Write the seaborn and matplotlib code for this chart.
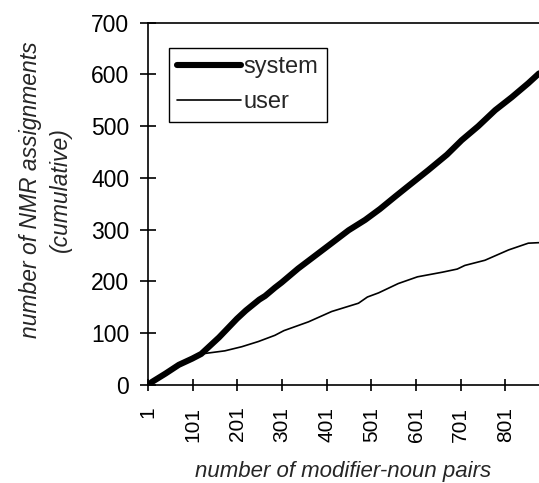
import numpy as np
import pandas as pd
import matplotlib
matplotlib.use("Agg")
import matplotlib.pyplot as plt
import seaborn as sns

# cumulative NMR assignments
system_pairs = [1, 10, 40, 70, 100, 120, 130, 160, 180, 200, 220, 250, 263, 285, 300,
                337, 360, 412, 450, 487, 520, 554, 580, 628, 670, 703, 740, 778, 815, 852, 876]
system_counts = [0, 6, 22, 39, 51, 60, 68, 92, 110, 128, 144, 165, 172, 188, 198,
                 225, 240, 274, 299, 319, 340, 364, 382, 415, 445, 473, 500, 531, 556, 583, 602]

user_pairs = [1, 10, 40, 70, 100, 120, 173, 211, 248, 285, 305, 360, 412, 472, 492,
              517, 561, 604, 660, 693, 710, 755, 808, 852, 876]
user_counts = [0, 6, 22, 39, 51, 60, 66, 74, 84, 96, 105, 122, 142, 158, 170,
               178, 196, 209, 218, 224, 231, 241, 261, 274, 275]

x_ticks = [1, 101, 201, 301, 401, 501, 601, 701, 801]
y_ticks = [0, 100, 200, 300, 400, 500, 600, 700]

sys_df = pd.DataFrame({"pairs": system_pairs, "count": system_counts})
usr_df = pd.DataFrame({"pairs": user_pairs, "count": user_counts})

sns.set_style("ticks")
plt.rcParams['font.family'] = ['Liberation Sans', 'DejaVu Sans']

fig = plt.figure(figsize=(5.39, 4.83), dpi=100)
ax = fig.add_axes([0.2746, 0.2029, 0.7254, 0.7501])

sns.lineplot(data=sys_df, x="pairs", y="count", ax=ax, color="black",
             linewidth=4.4, label="system", solid_capstyle="round")
sns.lineplot(data=usr_df, x="pairs", y="count", ax=ax, color="black",
             linewidth=1.2, label="user")

ax.set_xlim(1, 876)
ax.set_ylim(0, 700)
ax.set_xticks(x_ticks)
ax.set_yticks(y_ticks)
ax.set_xticklabels([str(t) for t in x_ticks], rotation=90, fontsize=15)
ax.set_yticklabels([str(t) for t in y_ticks], fontsize=16.5)
ax.tick_params(axis="y", direction="inout", length=11, width=1.2, pad=8, colors="black")
ax.tick_params(axis="x", direction="inout", length=9, width=1.2, pad=11, colors="black")

for side in ["left", "bottom", "top"]:
    ax.spines[side].set_visible(True)
    ax.spines[side].set_color("black")
    ax.spines[side].set_linewidth(1.2)
ax.spines["right"].set_visible(False)

ax.set_xlabel("number of modifier-noun pairs", fontsize=16, style="italic", va="top")
ax.xaxis.set_label_coords(0.5, -0.21)
ax.set_ylabel("number of NMR assignments\n(cumulative)", fontsize=16.5, style="italic",
              linespacing=1.4)
ax.yaxis.set_label_coords(-0.195, 0.54)

leg = ax.legend(loc="upper left", bbox_to_anchor=(0.054, 0.93), borderaxespad=0,
                fontsize=17, handlelength=2.7, handletextpad=0.1, labelspacing=0.55,
                borderpad=0.35, fancybox=False, framealpha=1, edgecolor="black")
leg.get_frame().set_linewidth(1.0)

fig.savefig("out.png", dpi=100)
